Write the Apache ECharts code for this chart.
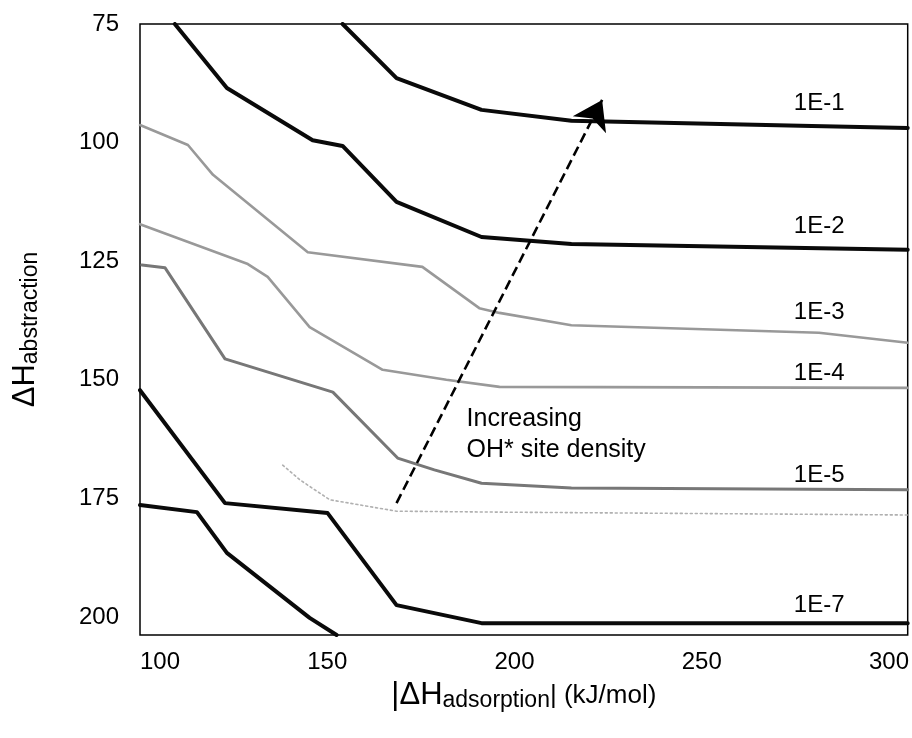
<!DOCTYPE html>
<html>
<head>
<meta charset="utf-8">
<script src="https://cdn.jsdelivr.net/npm/echarts@6/dist/echarts.min.js"></script>
<style>
  html, body { margin: 0; padding: 0; background: #fff; }
  #chart { width: 912px; height: 738px; }
</style>
</head>
<body>
<div id="chart"></div>
<script>
// Axis ticks
const xTicks = [100, 150, 200, 250, 300];
const yTicks = [75, 100, 125, 150, 175, 200];

// Contour lines: [|ΔH_adsorption|, ΔH_abstraction]
const c1E1 = [[154.1, 75], [168.5, 86.4], [191.2, 93.1], [215.2, 95.4], [279.4, 96.5], [305, 96.9]];
const c1E2 = [[109.3, 75], [123.2, 88.5], [146.1, 99.5], [154.1, 100.7], [168.5, 112.5], [191.2, 119.9], [215.2, 121.4], [305, 122.6]];
const c1E3 = [[100, 96.3], [112.8, 100.5], [119.5, 106.8], [144.8, 123.1], [175.4, 126.2], [190.6, 134.9], [196, 135.9], [215.2, 138.5], [281.3, 140.1], [305, 142.2]];
const c1E4 = [[100, 117.2], [128.8, 125.6], [134.1, 128.3], [145.3, 138.9], [164.8, 147.9], [181.8, 150.0], [196, 151.5], [305, 151.7]];
const c1E5 = [[100.5, 125.8], [106.7, 126.4], [122.7, 145.6], [151.5, 152.6], [168.8, 166.5], [178.6, 169.0], [191.2, 171.8], [215.2, 172.8], [305, 173.2]];
const c1E6 = [[138.1, 168.0], [142.7, 171.1], [150.7, 175.3], [168.5, 177.7], [196, 177.9], [305, 178.5]];
const c1E7 = [[100, 152.2], [122.7, 176.0], [150.1, 178.1], [168.5, 197.5], [191.2, 201.3], [305, 201.3]];
const c1E8 = [[100, 176.4], [115.2, 177.9], [123.2, 186.5], [145.3, 200.2], [152.5, 203.8]];

// Contour level captions and where they sit
const levelNames = ['1E-1', '1E-2', '1E-3', '1E-4', '1E-5', '1E-7'];
const levelAnchors = [[274.6, 91.7], [274.6, 117.6], [274.6, 135.7], [274.6, 148.6], [274.6, 170.1], [274.6, 197.5]];

// Trend arrow (tail -> head) and its note
const arrowPath = [[168.5, 176.0], [223.4, 91.0]];
const noteText = 'Increasing\nOH* site density';
const noteAnchor = [187.2, 161.6];

const FONT = '"Liberation Sans", Arial, Helvetica, sans-serif';

function contour(name, data, color, width, type) {
  return {
    name: name,
    type: 'line',
    data: data,
    symbol: 'none',
    showSymbol: false,
    silent: true,
    clip: true,
    lineStyle: { color: color, width: width, type: type || 'solid', cap: 'round', join: 'round' },
    z: 3
  };
}

function textLayer(name, data, size, lineHeight) {
  return {
    name: name,
    type: 'scatter',
    silent: true,
    symbolSize: 0,
    itemStyle: { opacity: 1 },
    z: 6,
    data: data,
    label: {
      show: true,
      position: 'right',
      distance: 0,
      formatter: p => p.value[2],
      color: '#000',
      opacity: 1,
      fontSize: size,
      lineHeight: lineHeight,
      fontFamily: FONT,
      align: 'left',
      verticalAlign: 'middle'
    }
  };
}

const chart = echarts.init(document.getElementById('chart'), null, { renderer: 'canvas' });

chart.setOption({
  animation: false,
  backgroundColor: '#fff',
  grid: {
    left: 140, right: 3, top: 24, bottom: 103,
    show: true, borderColor: '#000', borderWidth: 1.5, backgroundColor: 'transparent'
  },
  xAxis: {
    type: 'value',
    min: 100, max: 305,
    axisLine: { show: false },
    axisTick: { show: false },
    splitLine: { show: false },
    axisLabel: {
      customValues: xTicks,
      alignMinLabel: 'left',
      margin: 15,
      color: '#000',
      fontSize: 24,
      fontFamily: FONT
    },
    name: '{a||ΔH}{b|adsorption}{c|| (kJ/mol)}',
    nameLocation: 'middle',
    nameGap: 44,
    nameTextStyle: {
      color: '#000',
      fontFamily: FONT,
      rich: {
        a: { fontSize: 31, fontFamily: FONT, color: '#000' },
        b: { fontSize: 23, fontFamily: FONT, color: '#000', verticalAlign: 'bottom', padding: [10, 0, 0, 0] },
        c: { fontSize: 26, fontFamily: FONT, color: '#000' }
      }
    }
  },
  yAxis: {
    type: 'value',
    inverse: true,
    min: 75, max: 203.8,
    axisLine: { show: false },
    axisTick: { show: false },
    splitLine: { show: false },
    axisLabel: {
      customValues: yTicks,
      margin: 21,
      color: '#000',
      fontSize: 24,
      fontFamily: FONT
    },
    name: '{a|ΔH}{b|abstraction}',
    nameLocation: 'middle',
    nameGap: 98,
    nameTextStyle: {
      color: '#000',
      fontFamily: FONT,
      rich: {
        a: { fontSize: 31, fontFamily: FONT, color: '#000' },
        b: { fontSize: 23, fontFamily: FONT, color: '#000', verticalAlign: 'bottom', padding: [10, 0, 0, 0] }
      }
    }
  },
  series: [
    contour('1E-1', c1E1, '#0a0a0a', 4),
    contour('1E-2', c1E2, '#0a0a0a', 4),
    contour('1E-3', c1E3, '#999999', 2.6),
    contour('1E-4', c1E4, '#999999', 2.6),
    contour('1E-5', c1E5, '#777777', 3),
    contour('1E-6', c1E6, '#b0b0b0', 1.6, [2, 3]),
    contour('1E-7', c1E7, '#0a0a0a', 4),
    contour('1E-8', c1E8, '#0a0a0a', 4),
    {
      name: 'trend',
      type: 'lines',
      coordinateSystem: 'cartesian2d',
      silent: true,
      z: 5,
      symbol: ['none', 'arrow'],
      symbolSize: 28,
      lineStyle: { color: '#000', width: 2.6, type: [10, 5], opacity: 1, curveness: 0 },
      data: [{ coords: arrowPath }]
    },
    textLayer('levels', levelNames.map((t, i) => [levelAnchors[i][0], levelAnchors[i][1], t]), 24, 28),
    textLayer('note', [[noteAnchor[0], noteAnchor[1], noteText]], 25, 31)
  ]
});
</script>
</body>
</html>
